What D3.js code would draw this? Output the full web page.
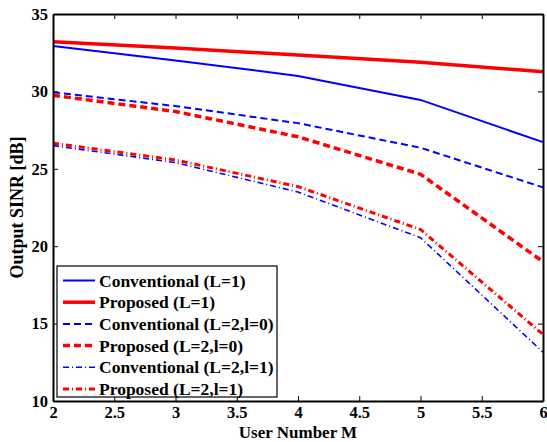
<!DOCTYPE html>
<html><head><meta charset="utf-8">
<script src="https://cdn.jsdelivr.net/npm/d3@7/dist/d3.min.js"></script>
<style>body{margin:0;background:#fff}svg{display:block}text{font-family:"Liberation Serif","Times New Roman",serif;font-weight:bold}</style>
</head><body><svg id="c" width="547" height="442"></svg>
<script>
const xValues = [2, 3, 4, 5, 6];
const convL1 = [32.93, 32.0, 31.0, 29.45, 26.72];
const propL1 = [33.2, 32.8, 32.35, 31.88, 31.27];
const convL2l0 = [29.95, 29.05, 27.95, 26.36, 23.8];
const propL2l0 = [29.75, 28.7, 27.07, 24.65, 19.0];
const convL2l1 = [26.5, 25.4, 23.5, 20.55, 13.15];
const propL2l1 = [26.65, 25.57, 23.85, 21.08, 14.3];
const xTicks = [2, 2.5, 3, 3.5, 4, 4.5, 5, 5.5, 6];
const yTicks = [10, 15, 20, 25, 30, 35];
const seriesNames = ["Conventional (L=1)", "Proposed (L=1)", "Conventional (L=2,l=0)", "Proposed (L=2,l=0)", "Conventional (L=2,l=1)", "Proposed (L=2,l=1)"];
const seriesData = [convL1, propL1, convL2l0, propL2l0, convL2l1, propL2l1];
const styles = [
  {c:"#0000ff", w:2, d:null},
  {c:"#ff0000", w:3.5, d:null},
  {c:"#0000ff", w:2, d:"7,4"},
  {c:"#ff0000", w:3.5, d:"7,4"},
  {c:"#0000ff", w:1.6, d:"6,3,1,3"},
  {c:"#ff0000", w:3, d:"6,3,1,3"}
];
const svg = d3.select("#c");
const L=53, R=543, T=14, B=401;
const x = d3.scaleLinear().domain([2,6]).range([L,R]);
const y = d3.scaleLinear().domain([10,35]).range([B,T]);
const line = d3.line().x((d,i)=>x(xValues[i])).y(d=>y(d));
seriesData.forEach((s,i)=>{
  svg.append("path").attr("d",line(s)).attr("fill","none")
    .attr("stroke",styles[i].c).attr("stroke-width",styles[i].w)
    .attr("stroke-dasharray",styles[i].d);
});
// axes box
const ax = svg.append("g");
ax.append("g").attr("transform",`translate(0,${B})`).call(d3.axisBottom(x).tickValues(xTicks).tickSizeInner(-5).tickSizeOuter(0).tickPadding(5).tickFormat(d=>d));
ax.append("g").attr("transform",`translate(0,${T})`).call(d3.axisTop(x).tickValues(xTicks).tickSizeInner(-5).tickSizeOuter(0).tickFormat(""));
ax.append("g").attr("transform",`translate(${L},0)`).call(d3.axisLeft(y).tickValues(yTicks).tickSizeInner(-5).tickSizeOuter(0).tickPadding(5));
ax.append("g").attr("transform",`translate(${R},0)`).call(d3.axisRight(y).tickValues(yTicks).tickSizeInner(-5).tickSizeOuter(0).tickFormat(""));
ax.selectAll("path.domain").attr("stroke","#000").attr("stroke-width",2);
ax.selectAll(".tick line").attr("stroke","#000").attr("stroke-width",1);
ax.selectAll(".tick text").attr("font-size",16.5).attr("fill","#000").style("font-family",'"Liberation Serif",serif').style("font-weight","bold");
svg.append("text").attr("x",(L+R)/2).attr("y",438).attr("text-anchor","middle").attr("font-size",17).text("User Number M");
svg.append("text").attr("transform",`translate(23,${(T+B)/2}) rotate(-90)`).attr("text-anchor","middle").attr("font-size",18).text("Output SINR [dB]");
// legend
const lg = svg.append("g");
lg.append("rect").attr("x",57).attr("y",266).attr("width",220).attr("height",131).attr("fill","#fff").attr("stroke","#000").attr("stroke-width",1.2);
seriesNames.forEach((n,i)=>{
  const yy = 280.5 + i*21.7;
  lg.append("line").attr("x1",63).attr("x2",95).attr("y1",yy).attr("y2",yy)
    .attr("stroke",styles[i].c).attr("stroke-width",styles[i].w).attr("stroke-dasharray",styles[i].d);
  lg.append("text").attr("x",99).attr("y",yy+6).attr("font-size",17.5).text(n);
});
</script></body></html>
